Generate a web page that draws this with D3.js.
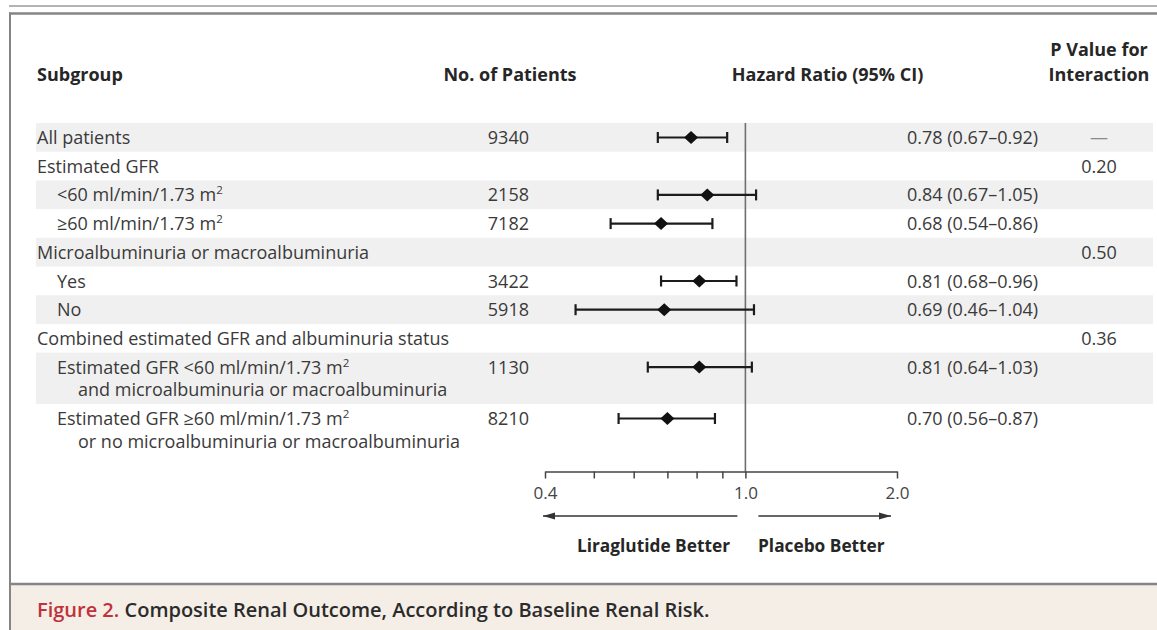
<!DOCTYPE html>
<html><head><meta charset="utf-8">
<script src="https://cdn.jsdelivr.net/npm/d3@7"></script>
<style>
  body { margin: 0; background: #fff; }
  svg text { font-family: "Open Sans", "Noto Sans", sans-serif; }
</style>
</head>
<body>
<svg id="chart" width="1157" height="630"></svg>
<script>
// Subgroup labels ("^" starts a superscript), one array entry per table row
const subgroupLines = [
  ["All patients"],
  ["Estimated GFR"],
  ["<60 ml/min/1.73 m^2"],
  ["≥60 ml/min/1.73 m^2"],
  ["Microalbuminuria or macroalbuminuria"],
  ["Yes"],
  ["No"],
  ["Combined estimated GFR and albuminuria status"],
  ["Estimated GFR <60 ml/min/1.73 m^2", "and microalbuminuria or macroalbuminuria"],
  ["Estimated GFR ≥60 ml/min/1.73 m^2", "or no microalbuminuria or macroalbuminuria"]
];
const indentLevel   = [0, 0, 1, 1, 0, 1, 1, 0, 1, 1];
const patients      = [9340, null, 2158, 7182, null, 3422, 5918, null, 1130, 8210];
const hazardRatio   = [0.78, null, 0.84, 0.68, null, 0.81, 0.69, null, 0.81, 0.70];
const ciLower       = [0.67, null, 0.67, 0.54, null, 0.68, 0.46, null, 0.64, 0.56];
const ciUpper       = [0.92, null, 1.05, 0.86, null, 0.96, 1.04, null, 1.03, 0.87];
const pInteraction  = ["—", "0.20", null, null, "0.50", null, null, "0.36", null, null];
const axisTicks     = [0.4, 0.5, 0.6, 0.7, 0.8, 0.9, 1.0, 2.0];
const axisLabels    = [0.4, 1.0, 2.0];
const directionText = ["Liraglutide Better", "Placebo Better"];
const headers = { subgroup: "Subgroup", n: "No. of Patients", hr: "Hazard Ratio (95% CI)", p: ["P Value for", "Interaction"] };
const captionLabel = "Figure 2.";
const captionText  = " Composite Renal Outcome, According to Baseline Renal Risk.";

const W = 1157, H = 630;
const svg = d3.select("#chart");
const textColor = "#3a3a3a";

// ---- frame: double rule on top, left rule, caption band ----
svg.append("line").attr("x1", 9).attr("x2", W).attr("y1", 6).attr("y2", 6)
  .attr("stroke", "#9a9a9a").attr("stroke-width", 1.5);
svg.append("line").attr("x1", 9).attr("x2", W).attr("y1", 13.5).attr("y2", 13.5)
  .attr("stroke", "#858585").attr("stroke-width", 2.5);
svg.append("rect").attr("x", 11).attr("y", 585).attr("width", W - 11).attr("height", H - 585)
  .attr("fill", "#f5eee7");
svg.append("line").attr("x1", 9).attr("x2", W).attr("y1", 584).attr("y2", 584)
  .attr("stroke", "#858585").attr("stroke-width", 2.5);
svg.append("line").attr("x1", 10).attr("x2", 10).attr("y1", 12.5).attr("y2", H)
  .attr("stroke", "#858585").attr("stroke-width", 2);

// ---- row geometry ----
const rowTop0 = 123, singleRow = 28.7, extraLine = 22.7;
const rows = [];
let cursor = rowTop0;
subgroupLines.forEach((lines, i) => {
  const h = singleRow + (lines.length - 1) * extraLine;
  rows.push({ i, lines, top: cursor, h });
  cursor += h;
});
const baseline = (r, k) => r.top + 21 + k * 22.5;
const markY = r => baseline(r, 0) - 6.5;

// alternating shaded bands
svg.append("g").selectAll("rect").data(rows.filter(r => r.i % 2 === 0)).join("rect")
  .attr("x", 36).attr("width", 1153 - 36)
  .attr("y", r => r.top).attr("height", r => r.h)
  .attr("fill", "#f0f0f0");

// ---- headers ----
const hdr = svg.append("g").attr("fill", "#262626").style("font-weight", 700).style("font-size", "18px");
hdr.append("text").attr("x", 37).attr("y", 81).text(headers.subgroup);
hdr.append("text").attr("x", 510).attr("y", 81).attr("text-anchor", "middle").text(headers.n);
hdr.append("text").attr("x", 827.5).attr("y", 81).attr("text-anchor", "middle").text(headers.hr);
headers.p.forEach((t, k) => hdr.append("text").attr("x", 1099).attr("y", 55.5 + k * 25.5)
  .attr("text-anchor", "middle").text(t));

// ---- subgroup labels ----
function addRichText(sel, str) {
  const parts = str.split("^");
  sel.append("tspan").text(parts[0]);
  if (parts.length > 1) {
    sel.append("tspan").attr("dy", -7).style("font-size", "11.5px").text(parts[1]);
  }
}
const body = svg.append("g").attr("fill", textColor).style("font-size", "18px");
rows.forEach(r => {
  r.lines.forEach((line, k) => {
    const x = 37 + indentLevel[r.i] * 20 + (k > 0 ? 21 : 0);
    const t = body.append("text").attr("x", x).attr("y", baseline(r, k));
    addRichText(t, line);
  });
  if (patients[r.i] != null) {
    body.append("text").attr("x", 529).attr("y", baseline(r, 0)).attr("text-anchor", "end")
      .text(patients[r.i]);
  }
  if (hazardRatio[r.i] != null) {
    body.append("text").attr("x", 907).attr("y", baseline(r, 0))
      .text(`${hazardRatio[r.i].toFixed(2)} (${ciLower[r.i].toFixed(2)}–${ciUpper[r.i].toFixed(2)})`);
  }
  if (pInteraction[r.i] != null) {
    body.append("text").attr("x", 1099).attr("y", baseline(r, 0)).attr("text-anchor", "middle")
      .attr("fill", pInteraction[r.i] === "—" ? "#8a8a8a" : textColor)
      .text(pInteraction[r.i]);
  }
});

// ---- hazard-ratio scale and axis ----
const x = d3.scaleLog().domain([0.4, 2.0]).range([545, 897]);
const axisY = 471.5;

svg.append("line").attr("x1", x(1)).attr("x2", x(1)).attr("y1", rowTop0).attr("y2", axisY)
  .attr("stroke", "#6e6e6e").attr("stroke-width", 1.6);

const axis = d3.axisBottom(x)
  .tickValues(axisTicks)
  .tickSize(7).tickSizeOuter(0).tickPadding(8)
  .tickFormat(d => axisLabels.includes(d) ? d3.format(".1f")(d) : "");
const gAxis = svg.append("g").attr("transform", `translate(0,${axisY})`).call(axis);
gAxis.select(".domain").attr("stroke", "#444").attr("stroke-width", 1.5);
gAxis.selectAll(".tick line").attr("stroke", "#444").attr("stroke-width", 1.5);
gAxis.selectAll(".tick text").attr("fill", "#444")
  .style("font-family", "'Open Sans', sans-serif").style("font-size", "17px");

// direction arrows and labels
const defs = svg.append("defs");
defs.append("marker").attr("id", "arrowHead").attr("viewBox", "0 0 12 8")
  .attr("refX", 12).attr("refY", 4).attr("markerWidth", 12).attr("markerHeight", 8)
  .attr("markerUnits", "userSpaceOnUse").attr("orient", "auto")
  .append("path").attr("d", "M0,0.5 L12,4 L0,7.5 Z").attr("fill", "#333");
const arrowY = 516;
svg.append("line").attr("x1", x(1) - 8).attr("x2", x(0.4) - 2).attr("y1", arrowY).attr("y2", arrowY)
  .attr("stroke", "#333").attr("stroke-width", 1.6).attr("marker-end", "url(#arrowHead)");
svg.append("line").attr("x1", x(1) + 13).attr("x2", x(2.0) - 6).attr("y1", arrowY).attr("y2", arrowY)
  .attr("stroke", "#333").attr("stroke-width", 1.6).attr("marker-end", "url(#arrowHead)");
const dir = svg.append("g").attr("fill", "#262626").style("font-weight", 700).style("font-size", "17.3px");
dir.append("text").attr("x", 730).attr("y", 552).attr("text-anchor", "end").text(directionText[0]);
dir.append("text").attr("x", 758).attr("y", 552).text(directionText[1]);

// ---- confidence intervals and point estimates ----
const est = rows.filter(r => hazardRatio[r.i] != null);
const marks = svg.append("g").attr("stroke", "#1c1c1c").attr("stroke-width", 2.2);
marks.selectAll("line.ci").data(est).join("line").attr("class", "ci")
  .attr("x1", r => x(ciLower[r.i])).attr("x2", r => x(ciUpper[r.i]))
  .attr("y1", markY).attr("y2", markY);
marks.selectAll("line.capL").data(est).join("line").attr("class", "capL")
  .attr("x1", r => x(ciLower[r.i])).attr("x2", r => x(ciLower[r.i]))
  .attr("y1", r => markY(r) - 5.5).attr("y2", r => markY(r) + 5.5);
marks.selectAll("line.capR").data(est).join("line").attr("class", "capR")
  .attr("x1", r => x(ciUpper[r.i])).attr("x2", r => x(ciUpper[r.i]))
  .attr("y1", r => markY(r) - 5.5).attr("y2", r => markY(r) + 5.5);
svg.append("g").selectAll("path").data(est).join("path")
  .attr("d", r => {
    const cx = x(hazardRatio[r.i]), cy = markY(r);
    return `M${cx - 7},${cy} L${cx},${cy - 6.5} L${cx + 7},${cy} L${cx},${cy + 6.5} Z`;
  })
  .attr("fill", "#111");

// ---- caption ----
const cap = svg.append("text").attr("x", 37).attr("y", 617).style("font-size", "20px").style("font-weight", 600);
cap.append("tspan").attr("fill", "#c0323a").text(captionLabel);
cap.append("tspan").attr("fill", "#2b2b2b").text(captionText);
</script>
</body></html>
